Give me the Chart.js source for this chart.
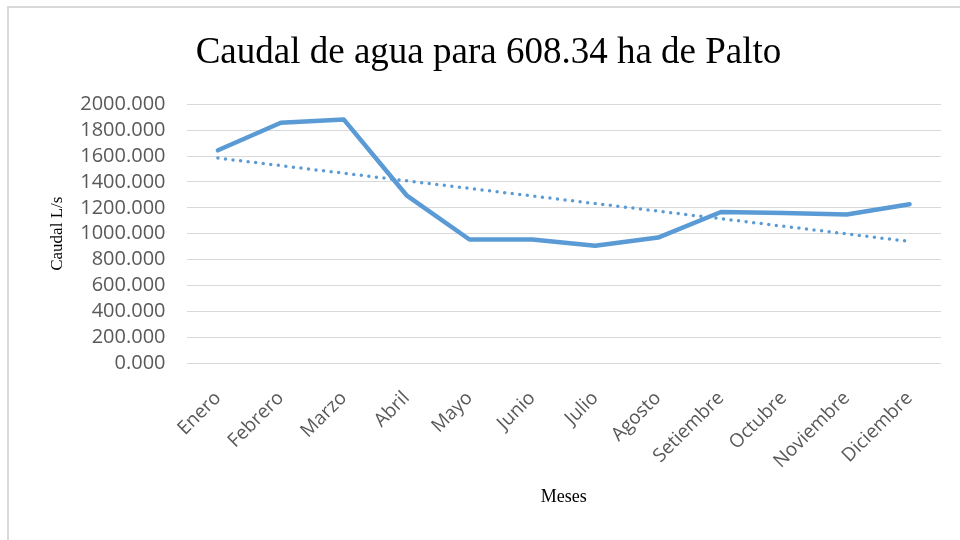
<!DOCTYPE html>
<html>
<head>
<meta charset="utf-8">
<script src="https://cdn.jsdelivr.net/npm/chart.js@4"></script>
<style>
  html, body { margin: 0; padding: 0; background: #fff; }
  #wrap { position: relative; width: 960px; height: 540px; overflow: hidden; }
  #frame { position: absolute; left: 7px; top: 6px; width: 1000px; height: 600px;
           border-top: 2px solid #d9d9d9; border-left: 2px solid #d9d9d9; }
  canvas { position: absolute; left: 0; top: 0; }
</style>
</head>
<body>
<div id="wrap">
  <div id="frame"></div>
  <canvas id="chart" width="960" height="540"></canvas>
</div>
<script>
/* DATA */
const meses = ["Enero", "Febrero", "Marzo", "Abril", "Mayo", "Junio", "Julio",
  "Agosto", "Setiembre", "Octubre", "Noviembre", "Diciembre"];
const caudal = [1645, 1858, 1884, 1297, 955, 955, 906, 970, 1168, 1160, 1148, 1228];
// linear trendline, ends
const tendencia = [1585, null, null, null, null, null, null, null, null, null, null, 940];
const yMin = 0;
const yMax = 2000;
const yStep = 200;

const azul = "#5b9bd5";
const gris = "#595959";

/* CHART */
let chart = new Chart(document.getElementById("chart"), {
  type: "line",
  data: {
    labels: meses,
    datasets: [{
      label: "Tendencia",
      data: tendencia,
      spanGaps: true,
      borderColor: azul,
      borderWidth: 3.5,
      borderDash: [0, 7.6],
      borderCapStyle: "round",
      pointRadius: 0,
      order: 0
    }, {
      label: "Caudal",
      data: caudal,
      borderColor: azul,
      borderWidth: 4.5,
      borderJoinStyle: "round",
      borderCapStyle: "round",
      pointRadius: 0,
      tension: 0,
      order: 1
    }]
  },
  options: {
    responsive: false,
    animation: false,
    layout: { padding: { left: 36, right: 19, top: 0, bottom: 0 } },
    plugins: {
      legend: { display: false },
      tooltip: { enabled: false },
      title: {
        display: true,
        text: "Caudal de agua para 608.34 ha de Palto",
        color: "#000",
        font: { family: "Liberation Serif", size: 37, weight: "normal" },
        padding: { top: 31, bottom: 29 }
      }
    },
    scales: {
      x: {
        offset: true,
        grid: { display: false, offset: true },
        border: { display: false },
        ticks: {
          color: gris,
          font: { family: "Open Sans", size: 19 },
          minRotation: 45,
          maxRotation: 45,
          padding: 16,
          autoSkip: false
        },
        title: {
          display: true,
          text: "Meses",
          color: "#000",
          font: { family: "Liberation Serif", size: 18 },
          padding: { top: 0, bottom: 32 }
        },
        afterFit: s => { s.height = 540 - 363; }
      },
      y: {
        min: yMin,
        max: yMax,
        grid: { color: "#d9d9d9", lineWidth: 1, drawTicks: false },
        border: { display: false },
        ticks: {
          stepSize: yStep,
          autoSkip: false,
          color: gris,
          font: { family: "Open Sans", size: 20 },
          padding: 21,
          callback: v => v.toFixed(3)
        },
        title: {
          display: true,
          text: "Caudal L/s",
          color: "#000",
          font: { family: "Liberation Serif", size: 17 },
          padding: { top: 11, bottom: 0 }
        },
        afterFit: s => { s.width = 186.5 - 36; }
      }
    }
  }
});
</script>
</body>
</html>
